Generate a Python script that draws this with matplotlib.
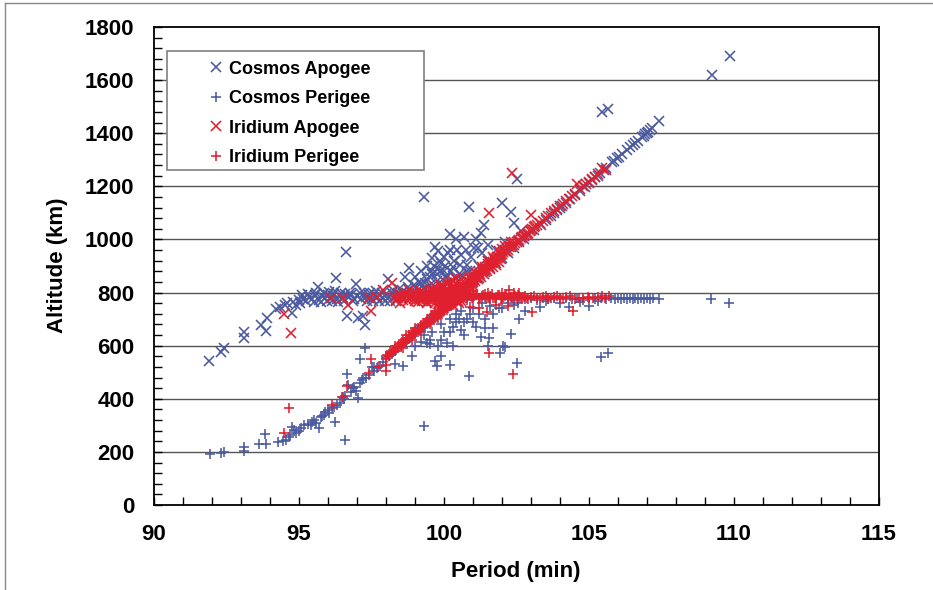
import numpy as np
import matplotlib
matplotlib.use('Agg')
import matplotlib.pyplot as plt
from matplotlib.patches import Rectangle
from matplotlib.lines import Line2D
from matplotlib.ticker import MultipleLocator

plt.rcParams['font.family'] = ['Liberation Sans', 'DejaVu Sans']

# (period min, altitude km)
cosmos_apogee = [
    (91.9,544),(92.3,577),(92.4,592),(93.1,629),(93.1,652),(93.7,676),(93.85,657),(93.9,703),
    (94.2,737),(94.35,744),(94.5,752),(94.6,760),(94.75,722),(94.8,766),(94.9,752),(95.0,771),
    (95.05,760),(95.15,776),(95.25,768),(95.35,783),(95.45,774),(95.55,789),(95.66,820),(95.7,772),
    (95.8,786),(95.9,778),(96.0,791),(96.1,781),(96.2,795),(96.28,853),(96.3,776),(96.4,788),
    (96.5,780),(96.6,796),(96.62,954),(96.65,712),(96.7,783),(96.8,790),(96.9,776),(96.95,832),
    (97.0,786),(97.05,703),(97.1,797),(97.2,710),(97.28,676),(97.3,782),(97.4,790),(97.5,777),
    (97.6,795),(97.7,784),(97.8,791),(97.9,779),(98.0,793),(98.07,851),(98.1,784),(98.2,797),
    (98.3,787),(98.4,800),(98.5,791),(98.6,806),(98.65,860),(98.7,790),(98.79,893),(98.8,812),
    (98.9,800),(99.0,821),(99.05,785),(99.1,808),(99.2,836),(99.25,795),(99.3,815),(99.32,1161),
    (99.4,850),(99.45,800),(99.5,828),(99.55,880),(99.6,870),(99.65,810),(99.7,972),(99.75,845),
    (99.8,957),(99.85,918),(99.9,880),(99.95,830),(100.0,935),(100.05,900),(100.1,860),(100.2,1021),
    (100.25,880),(100.3,898),(100.42,1002),(100.5,870),(100.6,940),(100.7,1008),(100.8,905),
    (100.87,1124),(100.93,935),(101.03,967),(101.16,966),(101.27,1023),(101.37,1055),(102.0,1136),
    (102.3,1105),(102.42,1061),(102.5,1229),(102.65,1030),(105.45,1481),(105.65,1491),
    (109.24,1621),(109.85,1689),
    (101.2,900),(101.5,920),(101.8,960),(102.1,990),(100.4,850),(100.6,865),(100.8,880),
    (101.0,840),(101.2,855),(101.4,877),(101.6,893),(101.8,912),(102.0,930),(102.2,950),
    (102.4,968),(102.6,990),(102.76,1002),(102.9,1015),(103.1,1034),(103.33,1055),(103.5,1073),
    (103.68,1088),(103.8,1100),(103.9,1110),(104.0,1118),(104.08,1126),(104.2,1136),(104.35,1152),
    (104.53,1168),(104.7,1184),(104.85,1198),(104.99,1212),(105.1,1224),(105.22,1234),(105.3,1240),
    (105.39,1250),(105.5,1262),(105.6,1268),(105.79,1290),(105.87,1296),(105.96,1305),(106.05,1312),
    (106.13,1322),(106.3,1337),(106.42,1348),(106.5,1355),(106.59,1364),(106.7,1372),(106.82,1385),
    (106.88,1390),(106.93,1396),(107.0,1402),(107.04,1406),(107.1,1412),(107.16,1418),(107.42,1447),
    (95.1,790),(95.3,795),(95.5,765),(95.6,800),(95.75,765),(95.85,800),(95.95,768),(96.05,802),
    (96.15,770),(96.25,805),(96.35,765),(96.45,800),(96.55,770),(96.75,800),(96.85,768),(97.15,775),
    (97.25,800),(97.35,768),(97.45,800),(97.55,770),(97.65,805),(97.75,770),(97.85,800),(97.95,768),
    (98.15,770),(98.25,808),(98.35,772),(98.45,812),(98.55,778),(98.75,820),(98.85,785),(98.95,830),
    (99.15,840),(99.35,835),(99.5,860),(99.65,900),(99.75,870),(99.9,910),(100.05,860),(100.15,950),
    (100.35,920),(100.55,905),(100.75,960),(100.9,880),(99.0,860),(99.2,880),(99.4,900),(99.6,930),
    (99.8,890),(100.0,880),(100.45,960),(101.1,1000),(101.3,950),(101.5,980),(100.2,960),
]

cosmos_perigee = [
    (91.92,193),(92.3,197),(92.4,198),(93.12,205),(93.12,220),(93.63,230),(93.85,230),(93.84,267),
    (94.26,236),(94.45,240),(94.55,246),(94.65,255),(94.7,262),(94.77,294),(94.83,282),(94.9,270),
    (95.0,280),(95.06,289),(95.17,300),(95.3,305),(95.45,312),(95.57,308),(95.5,320),(95.68,290),
    (95.75,330),(95.85,340),(95.91,351),(96.0,358),(96.05,346),(96.15,365),(96.24,312),(96.3,375),
    (96.4,385),(96.48,408),(96.55,398),(96.6,245),(96.65,493),(96.7,452),(96.8,425),(96.85,440),
    (96.95,430),(97.05,402),(97.1,460),(97.17,471),(97.1,548),(97.26,590),(97.3,480),(97.4,490),
    (97.51,521),(97.6,505),(97.7,515),(97.8,525),(97.9,540),(98.0,550),(98.1,560),(98.2,570),
    (98.3,580),(98.4,590),(98.5,596),(98.6,605),(98.7,615),(98.8,625),(98.9,635),(99.0,643),
    (99.1,650),(99.2,660),(99.3,670),(99.4,680),(99.5,690),(99.6,698),(99.7,708),(99.8,718),
    (99.9,727),(100.0,736),(100.1,745),(100.2,755),(100.3,764),(100.4,773),(100.5,782),
    (98.3,530),(98.6,525),(98.9,560),(99.0,600),(99.2,615),(99.32,298),(99.4,610),(99.5,605),
    (99.7,541),(99.75,525),(99.8,600),(99.9,620),(100.0,650),(100.1,610),(100.2,527),(100.3,670),
    (100.4,690),(100.5,700),(100.6,660),(100.7,690),(100.87,485),(100.9,720),(101.0,740),
    (101.1,670),(101.27,631),(101.4,665),(101.5,600),(101.55,630),(101.7,720),(101.9,740),
    (101.94,573),(102.1,595),(102.3,644),(102.5,534),(102.6,700),(102.8,730),(103.3,745),
    (104.3,745),(105.0,748),(105.41,559),(105.64,571),(109.21,775),(109.84,762),
    (100.6,778),(100.8,772),(101.0,780),(101.2,775),(101.4,782),(101.6,774),(101.8,779),
    (102.0,776),(102.2,781),(102.4,773),(102.6,778),(102.8,775),(103.0,780),(103.2,773),
    (103.4,778),(103.6,776),(103.8,780),(104.0,774),(104.2,779),(104.4,775),(104.6,778),
    (104.8,772),(105.0,780),(105.2,775),(105.4,778),(105.6,776),(105.75,779),(105.9,774),
    (106.0,778),(106.1,775),(106.2,780),(106.3,776),(106.4,778),(106.5,774),(106.6,779),
    (106.7,776),(106.8,778),(106.9,775),(107.0,779),(107.1,776),(107.2,778),(107.42,775),
    (99.3,640),(99.6,650),(99.9,680),(100.2,700),(100.4,720),(100.6,730),(100.8,700),(101.0,690),
    (101.2,720),(101.4,700),(99.5,620),(99.9,560),(100.3,600),(100.7,640),(101.3,760),(101.6,750),
    (102.0,740),(102.2,760),(102.4,755),(100.2,650),(101.7,665),(102.05,600),(102.55,760),
    (103.5,770),(104.0,760),(104.7,765),(105.3,770),(95.4,300),(95.8,335),(96.2,370),(96.6,410),
    (96.9,445),(97.2,480),(97.6,520),(98.0,560),(98.4,600),(98.8,640),(99.2,675),(99.6,712),
    (100.0,745),
]

iridium_apogee = [
    (94.49,719),(94.72,647),(96.1,778),(96.5,778),(96.69,753),(97.4,778),(97.49,732),(97.68,782),
    (97.9,810),(98.19,835),(98.48,760),
    (98.3,785),(98.4,778),(98.5,790),(98.6,772),(98.7,786),(98.8,779),(98.9,792),(99.0,770),
    (99.05,784),(99.1,795),(99.15,776),(99.2,788),(99.25,768),(99.3,782),(99.35,796),(99.4,774),
    (99.45,787),(99.5,779),(99.55,792),(99.6,770),(99.65,784),(99.7,797),(99.75,776),(99.8,789),
    (99.85,770),(99.9,783),(99.95,795),(100.0,775),(100.05,788),(100.1,779),(100.15,793),
    (100.2,772),(100.25,786),(100.3,798),(100.35,778),(100.4,790),(100.45,782),(100.5,795),
    (98.8,810),(99.2,805),(99.6,812),(99.9,820),(100.1,815),(100.3,825),(99.4,760),(99.8,758),
    (100.0,762),(99.5,810),(99.7,820),(99.9,830),(100.1,835),(100.3,845),(100.4,855),(100.2,840),
    (100.0,800),(99.8,805),
    (100.55,800),(100.6,808),(100.65,812),(100.7,818),(100.75,822),(100.8,828),(100.85,832),
    (100.9,838),(100.95,842),(101.0,846),(101.05,850),(101.1,856),(101.15,860),(101.2,866),
    (101.25,870),(101.3,876),(101.35,880),(101.4,886),(101.45,890),(101.5,895),(101.55,900),
    (101.6,906),(101.65,910),(101.7,915),(101.75,920),(101.8,925),(101.85,930),(101.9,935),
    (101.95,940),(102.0,945),(102.1,955),(102.2,962),(102.3,972),(102.4,980),(102.5,990),
    (102.6,998),(102.7,1008),(102.8,1015),(102.9,1025),(103.0,1035),(103.1,1045),(103.2,1055),
    (103.3,1062),(103.5,1080),(103.7,1098),(103.9,1115),(104.1,1135),(104.3,1152),(104.5,1172),
    (104.7,1190),(104.9,1208),(105.1,1228),(105.3,1245),(105.45,1268),(105.6,1262),
    (100.7,840),(100.9,860),(101.1,875),(101.3,895),(101.5,918),(101.7,935),(101.9,955),
    (102.1,975),(102.3,990),(102.0,965),(101.0,825),(100.8,812),
    (101.56,1101),(103.01,1092),(102.36,1251),(104.6,1210),
    (98.35,770),(98.45,795),(98.55,782),(98.65,798),(98.75,768),(98.85,786),(98.95,776),(99.02,800),
    (99.12,765),(99.18,798),(99.28,778),(99.38,790),(99.42,765),(99.52,800),(99.58,775),(99.62,792),
    (99.68,762),(99.72,788),(99.78,800),(99.82,772),(99.88,794),(99.92,765),(99.98,785),(100.02,798),
    (100.08,768),(100.12,806),(100.18,782),(100.22,800),(100.28,768),(100.32,812),(100.38,790),
    (100.42,805),(100.48,770),(100.52,810),(100.58,790),(100.62,825),(100.68,800),(100.72,835),
    (100.78,815),(100.82,845),(100.88,825),(100.92,852),(100.98,835),(101.02,860),(101.08,842),
    (101.12,868),(101.18,850),(101.22,878),(101.28,860),(101.32,888),(101.38,868),(101.42,898),
    (101.48,880),(101.52,908),(101.58,888),(101.62,915),(101.68,898),(101.72,925),(101.78,905),
    (101.82,935),(101.88,915),(101.92,945),(101.98,925),(102.05,952),(102.15,958),(102.25,970),
    (102.35,978),(102.45,985),(102.55,995),(102.65,1005),(102.75,1012),(102.85,1020),(102.95,1030),
    (103.05,1040),(103.15,1050),(103.4,1070),(103.6,1090),(103.8,1108),(104.0,1125),(104.2,1145),
    (104.4,1162),(104.8,1200),(105.0,1218),(105.2,1236),
    (100.0,820),(100.2,830),(100.4,835),(100.5,840),(100.6,850),(100.1,800),(100.3,810),(100.5,820),
    (99.9,810),(99.7,800),(100.6,780),(100.7,790),(100.8,795),(100.4,770),(100.5,760),(100.3,755),
    (100.6,770),
]

iridium_perigee = [
    (94.66,364),(94.49,270),(96.14,377),(96.51,408),(96.65,448),(97.4,498),(97.49,549),(97.74,521),
    (97.99,527),(98.0,506),
    (98.0,552),(98.1,560),(98.2,572),(98.3,580),(98.4,590),(98.5,598),(98.55,605),(98.6,610),
    (98.65,615),(98.7,618),(98.75,625),(98.8,628),(98.85,633),(98.9,640),(98.95,643),(99.0,648),
    (99.05,652),(99.1,658),(99.15,662),(99.2,668),(99.25,672),(99.3,676),(99.35,682),(99.4,686),
    (99.45,690),(99.5,695),(99.55,700),(99.6,704),(99.65,708),(99.7,714),(99.75,718),(99.8,722),
    (99.85,728),(99.9,732),(99.95,736),(100.0,740),(100.05,746),(100.1,750),(100.15,755),
    (100.2,760),(100.25,764),(100.3,768),(100.35,773),(100.4,777),(100.45,782),
    (98.6,590),(98.9,620),(99.2,650),(99.5,680),(99.8,705),(100.1,735),(100.3,752),(99.0,665),
    (99.4,700),(99.7,730),(100.0,755),(100.2,770),(98.3,600),(98.7,640),
    (100.5,790),(100.6,784),(100.7,792),(100.8,780),(100.9,788),(101.0,783),(101.1,791),
    (101.2,779),(101.3,786),(101.4,793),(101.5,781),(101.6,788),(101.7,778),(101.8,785),
    (101.9,792),(102.0,780),(102.1,787),(102.2,776),(102.3,784),(102.4,790),(102.5,778),
    (102.6,786),(102.7,780),(102.8,788),(102.9,776),(103.0,783),(103.2,779),(103.4,785),
    (103.6,777),(103.8,782),(104.0,778),(104.2,784),(104.5,776),(104.8,781),(105.0,778),
    (105.3,783),(105.55,780),(105.7,786),
    (102.25,811),(102.4,800),(102.6,798),(102.0,800),(101.5,800),(101.0,805),
    (101.56,574),(102.37,495),(104.45,731),(103.02,726),(101.47,726),(101.2,740),(100.9,745),
    (101.8,755),(102.2,750),
    (98.05,565),(98.15,575),(98.25,585),(98.35,592),(98.45,602),(98.5,610),(98.6,620),(98.7,628),
    (98.8,640),(98.9,650),(99.0,658),(99.1,668),(99.2,678),(99.3,686),(99.4,694),(99.5,705),
    (99.6,714),(99.7,722),(99.8,732),(99.9,742),(100.0,750),(100.1,760),(100.2,768),(100.3,778),
    (100.4,786),(99.55,690),(99.65,700),(99.75,708),(99.85,716),(99.95,725),(100.05,735),
    (100.15,742),(100.25,750),(100.35,758),(100.45,768),(100.5,775),(100.6,795),(100.55,770),
    (100.65,778),(100.75,786),(100.85,794),(100.95,779),(101.05,787),(101.15,795),(101.25,781),
    (101.35,789),(101.45,777),(101.55,785),(101.65,793),(101.75,781),(101.85,789),(101.95,777),
    (102.05,785),(102.15,793),(102.35,780),(102.45,786),(102.55,792),(102.65,779),(102.75,785),
    (102.85,781),(103.1,787),(103.3,780),(103.5,786),(103.7,781),(103.9,786),(104.1,780),
    (104.35,786),(104.65,779),(104.95,785),(105.15,780),(105.45,786),
]

series_labels = ['Cosmos Apogee', 'Cosmos Perigee', 'Iridium Apogee', 'Iridium Perigee']
series_data = [cosmos_apogee, cosmos_perigee, iridium_apogee, iridium_perigee]
series_markers = ['x', '+', 'x', '+']
series_colors = ['#4B5AA0', '#4B5AA0', '#E0202F', '#E0202F']

x_ticks = [90, 95, 100, 105, 110, 115]
y_ticks = [0, 200, 400, 600, 800, 1000, 1200, 1400, 1600, 1800]

W, H = 933, 590
fig = plt.figure(figsize=(W/100, H/100), dpi=100)
L, R, T, B = 154, 879, 27, 505
ax = fig.add_axes([L/W, (H-B)/H, (R-L)/W, (B-T)/H])

handles = []
for data, lab, mk, col in zip(series_data, series_labels, series_markers, series_colors):
    arr = np.array(data, dtype=float)
    h, = ax.plot(arr[:, 0], arr[:, 1], linestyle='none', marker=mk, ms=7.2, mew=1.15,
                 color=col, label=lab, zorder=3)
    handles.append(h)

ax.set_xlim(90, 115)
ax.set_ylim(0, 1800)
ax.set_xticks(x_ticks)
ax.set_yticks(y_ticks)
ax.xaxis.set_minor_locator(MultipleLocator(1))
ax.yaxis.set_minor_locator(MultipleLocator(40))
ax.tick_params(axis='both', which='both', direction='in', width=1.0, color='black')
ax.tick_params(axis='both', which='major', length=6, labelsize=16)
ax.tick_params(axis='both', which='minor', length=6)
ax.tick_params(axis='x', which='major', pad=14)
ax.tick_params(axis='y', which='major', pad=14)
for lbl in ax.get_xticklabels() + ax.get_yticklabels():
    lbl.set_fontweight('bold')
for sp in ax.spines.values():
    sp.set_linewidth(1.3)
    sp.set_color('black')

for yv in y_ticks[1:-1]:
    ax.axhline(yv, color='#555555', lw=1.0, zorder=1)

fig.text(57/W, 1 - 265/H, 'Altitude (km)', rotation=90, ha='center', va='center',
         fontsize=16, fontweight='bold')
fig.text(516/W, 1 - 571/H, 'Period (min)', ha='center', va='center',
         fontsize=16, fontweight='bold')

# legend frame
ax.add_patch(Rectangle(((167-L)/(R-L), (B-170)/(B-T)), (424-167)/(R-L), (170-51.5)/(B-T),
                       transform=ax.transAxes, facecolor='white', edgecolor='#808080',
                       lw=1.2, zorder=4))
leg = ax.legend(handles, series_labels, loc='upper left',
                bbox_to_anchor=((208-L)/(R-L), (B-60.5)/(B-T)), frameon=False,
                prop=dict(weight='bold', size=13), handlelength=0.9, handletextpad=0.25,
                labelspacing=0.7, borderaxespad=0, borderpad=0)
leg.set_zorder(5)

# outer figure border
fig.add_artist(Line2D([5/W, 5/W], [0, 1 - 3/H], transform=fig.transFigure, color='#888888', lw=1.0))
fig.add_artist(Line2D([5/W, 1], [1 - 3/H, 1 - 3/H], transform=fig.transFigure, color='#888888', lw=1.0))

fig.savefig('out.png', dpi=100)
